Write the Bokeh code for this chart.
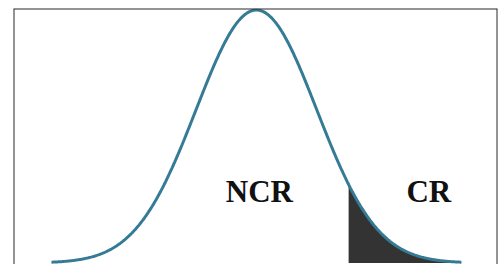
import numpy as np
from bokeh.plotting import figure
from bokeh.models import Span, Range1d, ColumnDataSource
from bokeh.core.properties import value
from bokeh.embed import file_html
from bokeh.resources import INLINE

# Standard normal distribution with a right-tail critical region
mean = 0.0
sd = 1.0
z_start, z_end = -3.4, 3.4
z_crit = 1.53
labels = ["NCR", "CR"]
label_x = [0.05, 2.86]
label_y = [0.112, 0.112]

x_min, x_max = -4.03, 4.0
y_min, y_max = -0.0024, 0.4013

z = np.linspace(z_start, z_end, 500)
pdf = np.exp(-((z - mean) / sd) ** 2 / 2) / (sd * np.sqrt(2 * np.pi))
mask = z >= z_crit
zc = np.concatenate([[z_crit], z[mask]])
pc = np.exp(-((zc - mean) / sd) ** 2 / 2) / (sd * np.sqrt(2 * np.pi))

p = figure(width=501, height=264, output_backend="svg", toolbar_location=None,
           x_range=Range1d(x_min, x_max), y_range=Range1d(y_min, y_max),
           min_border_left=13, min_border_right=4, min_border_top=8, min_border_bottom=0)
p.axis.visible = False
p.grid.visible = False
p.outline_line_color = None
p.background_fill_color = "white"
p.border_fill_color = "white"

p.varea(x=zc, y1=np.zeros_like(pc), y2=pc, fill_color="#333333")
p.line(z, pdf, line_color="#367b95", line_width=3)

src = ColumnDataSource(dict(x=label_x, y=label_y, t=labels))
p.text(x="x", y="y", text="t", source=src, text_font=value("Liberation Serif"),
       text_font_style="bold", text_font_size="31px", text_align="center",
       text_baseline="middle", text_color="#111111")

border = "#2b2b2b"
p.add_layout(Span(location=x_min, dimension="height", line_color=border, line_width=2))
p.add_layout(Span(location=x_max, dimension="height", line_color=border, line_width=2))
p.add_layout(Span(location=y_max, dimension="width", line_color=border, line_width=2))

open("out.html", "w").write(file_html(p, INLINE))
